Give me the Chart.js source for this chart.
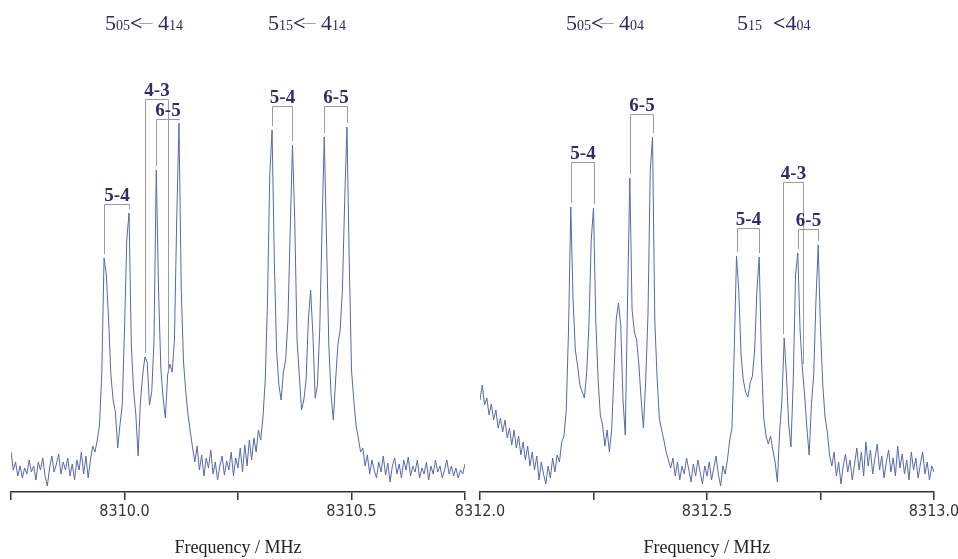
<!DOCTYPE html>
<html>
<head>
<meta charset="utf-8">
<script src="https://cdn.jsdelivr.net/npm/chart.js@4/dist/chart.umd.min.js"></script>
<style>
  html, body { margin: 0; padding: 0; background: #fff; }
  #wrap { position: relative; width: 958px; height: 559px; overflow: hidden; }
  #wrap canvas { position: absolute; top: 0; }
  .hdr {
    position: absolute; top: 12px;
    font-family: 'Liberation Serif', 'Times New Roman', serif;
    font-size: 22px; line-height: 1; color: #2b2966; white-space: pre;
  }
  .hdr small { font-size: 14px; }
  .hdr .arr { font-weight: bold; }
  .hdr .tail { margin-left: -3px; font-size: 13px; position: relative; top: -4px; color: #6a6890; }
</style>
</head>
<body>
<div id="wrap">
  <canvas id="leftPanel" width="480" height="559" style="left:0"></canvas>
  <canvas id="rightPanel" width="540" height="559" style="left:440px"></canvas>
  <div class="hdr" style="left:105px">5<small>05</small><span class="arr">&lt;</span><span class="tail">—</span> 4<small>14</small></div>
  <div class="hdr" style="left:268px">5<small>15</small><span class="arr">&lt;</span><span class="tail">—</span> 4<small>14</small></div>
  <div class="hdr" style="left:566px">5<small>05</small><span class="arr">&lt;</span><span class="tail">—</span> 4<small>04</small></div>
  <div class="hdr" style="left:737px">5<small>15</small>  <span class="arr">&lt;</span>4<small>04</small></div>
</div>
<script>
// Spectrum sampled every 5 kHz; signal in arbitrary units.
const sampleStep = 0.005;

const leftStart = 8309.75;
const leftSignal = [
  40,22,30,16,26,14,24,18,32,20,
  26,12,30,22,34,16,6,24,36,20,
  28,38,18,30,22,34,16,28,12,32,
  22,40,18,36,14,32,46,40,52,67,
  120,234,217,172,117,92,80,44,67,87,
  162,252,279,147,102,77,36,90,117,135,
  130,87,100,152,322,202,124,94,74,117,
  128,120,152,272,369,202,130,100,77,60,
  44,30,46,22,37,16,34,24,42,18,
  30,12,26,36,17,31,22,40,16,34,
  24,44,20,47,26,52,32,54,40,62,
  52,75,112,192,317,362,232,142,107,92,
  120,132,172,262,347,272,152,117,82,92,
  112,172,202,157,94,107,162,262,355,252,
  147,97,72,112,147,162,202,292,365,232,
  122,92,67,54,40,44,26,37,18,32,
  22,14,30,20,36,17,29,10,26,34,
  18,28,14,32,22,35,16,26,20,32,
  14,24,18,30,12,26,18,32,20,26,
  14,22,32,18,26,16,24,14,22,18,
  28
];

const rightStart = 8312.0;
const rightSignal = [
  92,107,87,94,77,88,72,82,64,74,
  60,72,54,64,47,62,44,56,37,50,
  32,46,26,40,22,36,12,30,18,8,
  26,14,34,20,37,30,50,56,82,162,
  285,192,142,126,107,100,94,120,167,252,
  284,172,114,77,67,46,62,40,62,117,
  172,189,167,92,57,192,314,182,160,152,
  127,92,64,112,177,322,355,172,115,74,
  62,52,40,32,24,34,16,30,12,26,
  18,34,22,10,28,16,32,20,8,26,
  16,30,12,24,36,18,6,26,18,32,
  52,64,142,236,202,137,112,100,95,109,
  116,142,202,235,132,74,56,48,56,42,
  30,10,60,92,154,117,67,45,112,217,
  239,162,124,97,64,37,87,117,192,247,
  162,107,75,60,37,26,40,16,30,8,
  26,38,20,32,12,28,44,22,40,16,
  50,26,42,18,34,48,22,36,14,30,
  42,20,34,16,46,24,38,18,32,12,
  40,22,34,14,28,40,18,30,12,26,
  20
];

const leftTickLabels = ['8310.0', '8310.5'];
const rightTickLabels = ['8312.0', '8312.5', '8313.0'];

// Hyperfine assignments: [label, lower line (MHz), upper line (MHz), bracket height]
const leftAssignments = [
  ['5-4', 8309.955, 8310.010, 288],
  ['4-3', 8310.046, 8310.095, 393],
  ['6-5', 8310.070, 8310.120, 373],
  ['5-4', 8310.325, 8310.370, 386],
  ['6-5', 8310.440, 8310.490, 386]
];
const rightAssignments = [
  ['5-4', 8312.200, 8312.250, 330],
  ['6-5', 8312.330, 8312.380, 378],
  ['5-4', 8312.565, 8312.615, 264],
  ['4-3', 8312.668, 8312.711, 310],
  ['6-5', 8312.700, 8312.745, 263]
];

function bracketPlugin(assignments, signal, start) {
  return {
    id: 'hfsBrackets',
    afterDatasetsDraw(chart) {
      const { ctx, scales: { x, y } } = chart;
      const valueAt = f => signal[Math.min(signal.length - 1, Math.max(0, Math.round((f - start) / sampleStep)))];
      ctx.save();
      ctx.strokeStyle = '#9a9aa8';
      ctx.lineWidth = 1;
      ctx.font = "bold 19px 'Liberation Serif', 'Times New Roman', serif";
      ctx.fillStyle = '#2e2c6e';
      ctx.textAlign = 'center';
      ctx.textBaseline = 'alphabetic';
      assignments.forEach(([label, f1, f2, level]) => {
        const x1 = Math.round(x.getPixelForValue(f1)) + 0.5;
        const x2 = Math.round(x.getPixelForValue(f2)) + 0.5;
        const yb = Math.round(y.getPixelForValue(level)) + 0.5;
        const y1 = y.getPixelForValue(valueAt(f1)) - 4;
        const y2 = y.getPixelForValue(valueAt(f2)) - 4;
        ctx.beginPath();
        ctx.moveTo(x1, y1);
        ctx.lineTo(x1, yb);
        ctx.lineTo(x2, yb);
        ctx.lineTo(x2, y2);
        ctx.stroke();
        ctx.fillText(label, (x1 + x2) / 2, yb - 4);
      });
      ctx.restore();
    }
  };
}

function makePanel(canvasId, start, signal, tickLabels, assignments, padLeft, padRight) {
  const points = signal.map((v, i) => ({ x: start + i * sampleStep, y: v }));
  return new Chart(document.getElementById(canvasId), {
    type: 'line',
    data: {
      datasets: [{
        data: points,
        borderColor: '#5867ad',
        borderWidth: 1,
        pointRadius: 0,
        tension: 0,
        fill: false
      }]
    },
    options: {
      responsive: false,
      animation: false,
      devicePixelRatio: 1,
      layout: { padding: { left: padLeft, right: padRight, top: 40, bottom: 0 } },
      plugins: { legend: { display: false }, tooltip: { enabled: false } },
      scales: {
        x: {
          type: 'linear',
          min: start,
          max: start + 1,
          afterFit: s => { s.height = 67; },
          border: { display: true, color: '#333', width: 1.5 },
          grid: { display: true, drawOnChartArea: false, drawTicks: true, tickLength: 8, color: '#333', lineWidth: 1.5 },
          ticks: {
            stepSize: 0.25,
            autoSkip: false,
            maxRotation: 0,
            padding: 2,
            color: '#333',
            font: { family: "'DejaVu Sans Condensed', 'Liberation Sans Narrow', sans-serif", size: 16 },
            callback: v => {
              const t = Number(v).toFixed(1);
              return (Math.abs(v * 2 - Math.round(v * 2)) < 1e-6 && tickLabels.includes(t)) ? t : '';
            }
          },
          title: {
            display: true,
            text: 'Frequency / MHz',
            color: '#222',
            font: { family: "'Liberation Serif', 'Times New Roman', serif", size: 18 },
            padding: { top: 0, bottom: 0 }
          }
        },
        y: { display: false, min: 0, max: 452 }
      }
    },
    plugins: [bracketPlugin(assignments, signal, start)]
  });
}

makePanel('leftPanel', leftStart, leftSignal, leftTickLabels, leftAssignments, 11, 15);
makePanel('rightPanel', rightStart, rightSignal, rightTickLabels, rightAssignments, 40, 46);
</script>
</body>
</html>
